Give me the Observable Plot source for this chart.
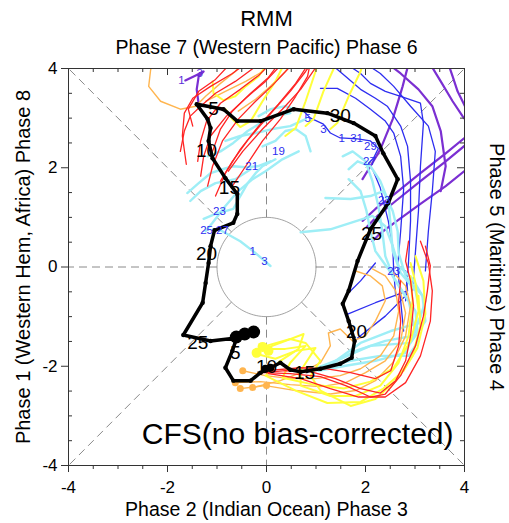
<!DOCTYPE html>
<html><head><meta charset="utf-8">
<script src="https://cdn.jsdelivr.net/npm/d3@7"></script>
<script src="https://cdn.jsdelivr.net/npm/@observablehq/plot@0.6"></script>
<style>body{margin:0;background:#fff}</style>
</head><body><div id="chart"></div>
<script>
// ---- text ----
const titleText = "RMM";
const topLabel = "Phase 7 (Western Pacific) Phase 6";
const bottomLabel = "Phase 2 (Indian Ocean) Phase 3";
const leftLabel = "Phase 1 (Western Hem, Africa) Phase 8";
const rightLabel = "Phase 5 (Maritime) Phase 4";
const modelLabel = "CFS(no bias-corrected)";

// ---- axes ----
const majorTicks = [-4, -2, 0, 2, 4];
const minorTicks = [-3.5, -3, -2.5, -1.5, -1, -0.5, 0.5, 1, 1.5, 2.5, 3, 3.5];
const phaseAngles = [0, 45, 90, 135, 180, 225, 270, 315];

// ---- observed RMM (black) ----
const observed = [[-0.61,-1.45],[-0.69,-1.69],[-0.83,-2.03],[-0.67,-2.29],[-0.32,-2.29],[-0.12,-2.13],[0.08,-2.03],[0.28,-1.93],[0.48,-2.07],[0.69,-2.11],[1.09,-2.05],[1.49,-1.95],[1.72,-1.83],[1.78,-1.49],[1.66,-1.09],[1.54,-0.74],[1.66,-0.48],[1.84,0.12],[2.10,0.76],[2.46,1.29],[2.65,1.77],[2.36,2.29],[2.20,2.64],[1.76,2.90],[1.23,3.10],[0.55,3.18],[-0.12,2.94],[-0.59,2.94],[-0.87,3.18],[-1.41,3.28],[-1.19,2.98],[-1.13,2.80],[-1.17,2.54],[-1.09,2.19],[-0.83,1.79],[-0.59,1.47],[-0.59,1.07],[-0.67,0.89],[-1.05,0.74],[-1.13,0.42],[-1.17,0.08],[-1.23,-0.32],[-1.29,-0.72],[-1.68,-1.37],[-1.13,-1.49],[-0.61,-1.43]];
const observedBigDots = [[-0.61,-1.41],[-0.44,-1.35],[-0.26,-1.31]];
const observedMidDots = [[0.08,-2.03],[-0.02,-2.05]];
const dayLabels = ["5","10","15","20","25","30","5","10","15","20","25"];
const dayLabelPos = [[-0.63,-1.73],[0,-2.01],[0.77,-2.13],[1.82,-1.31],[2.12,0.66],[1.49,3.04],[-1.07,3.18],[-1.21,2.33],[-0.75,1.59],[-1.21,0.26],[-1.39,-1.53]];

// ---- ensemble members by colour ----
const redMembers = [
 [[-1.62,2.07],[-1.70,2.64],[-1.66,3.10],[-1.49,3.40],[-1.13,3.64],[-0.69,3.90],[-0.36,4.14]],
 [[-1.39,2.13],[-1.33,2.54],[-1.21,2.94],[-0.93,3.30],[-0.53,3.58],[-0.16,3.86],[0.12,4.14]],
 [[-1.19,1.63],[-1.09,2.03],[-0.89,2.54],[-0.57,2.98],[-0.22,3.34],[0.12,3.66],[0.48,4.04]],
 [[-1.03,1.43],[-0.83,1.89],[-0.53,2.37],[-0.16,2.84],[0.24,3.28],[0.59,3.70],[0.85,4.10]],
 [[-0.77,1.93],[-0.48,2.33],[-0.08,2.78],[0.32,3.18],[0.69,3.58],[1.05,4.10]],
 [[-1.09,2.33],[-0.93,2.78],[-0.69,3.14],[-0.32,3.50],[0.04,3.82],[0.28,4.14]],
 [[-1.49,2.84],[-1.58,3.18],[-1.37,3.54],[-1.03,3.78],[-0.73,4.10]],
 [[-0.93,1.73],[-0.69,2.13],[-0.36,2.58],[0.04,3.04],[0.48,3.54],[0.79,3.94],[0.93,4.14]],
 [[-1.74,2.33],[-1.66,2.74],[-1.54,3.04],[-1.33,3.24],[-1.03,3.50],[-0.63,3.74],[-0.22,4.04]],
 [[-1.33,1.83],[-1.27,2.23],[-1.13,2.64],[-0.81,3.04],[-0.42,3.40],[-0.02,3.74],[0.32,4.10]],
 [[-0.69,1.63],[-0.42,2.03],[-0.08,2.54],[0.28,2.98],[0.59,3.44],[0.83,3.84],[0.89,4.14]],
 [[-0.08,-2.13],[0.38,-2.09],[0.89,-2.11],[1.39,-2.25],[1.90,-2.45],[2.30,-2.54],[2.61,-2.29],[2.81,-1.89],[2.91,-1.39],[2.97,-0.78],[2.91,-0.28],[2.81,0.12],[2.87,0.52]],
 [[-0.04,-2.13],[0.48,-2.15],[1.09,-2.21],[1.60,-2.39],[2.10,-2.62],[2.40,-2.56],[2.71,-2.19],[3.01,-1.59],[3.17,-0.99],[3.25,-0.48],[3.31,0.02],[3.21,0.42]],
 [[0,-2.09],[0.69,-2.03],[1.19,-2.05],[1.70,-2.13],[2.20,-2.25],[2.51,-2.09],[2.67,-1.59],[2.71,-1.09],[2.67,-0.68],[2.71,-0.28]],
 [[0.04,-2.15],[0.69,-2.25],[1.29,-2.45],[1.86,-2.62],[2.40,-2.62],[2.81,-2.33],[3.11,-1.79],[3.31,-1.09],[3.35,-0.48],[3.27,0.08],[3.11,0.52]]
];
const yellowMembers = [
 [[-0.16,-1.69],[0.28,-1.53],[0.75,-1.35],[0.65,-1.65],[0.28,-1.89],[-0.02,-2.19],[0.59,-2.49],[1.23,-2.74],[1.90,-2.72],[2.36,-2.45],[2.77,-2.09],[3.05,-1.63],[3.21,-0.95],[3.17,-0.28],[3.01,0.22]],
 [[-0.12,-1.65],[0.38,-1.65],[0.79,-1.59],[0.48,-1.93],[0.32,-2.23],[0.95,-2.37],[1.56,-2.45],[2.10,-2.31],[2.57,-2.03],[2.91,-1.49],[3.07,-0.89],[3.01,-0.32],[2.91,0.08]],
 [[-0.22,-1.75],[0.18,-1.85],[0.59,-1.69],[0.99,-1.63],[0.69,-2.09],[0.69,-2.39],[1.29,-2.60],[1.80,-2.60],[2.30,-2.39],[2.67,-1.93],[2.87,-1.39],[2.95,-0.68],[2.91,-0.18]],
 [[-0.08,-1.61],[0.48,-1.45],[0.79,-1.53],[1.09,-1.89],[0.89,-2.19],[1.09,-2.49],[1.70,-2.80],[2.20,-2.66],[2.61,-2.29],[2.95,-1.79],[3.11,-1.19],[3.07,-0.58]],
 [[0.38,2.64],[0.59,2.80],[0.79,3.34],[0.99,3.94],[1.05,4.14]],
 [[0.79,2.84],[0.95,2.98],[1.15,3.54],[1.35,3.98],[1.41,4.14]],
 [[1.29,2.78],[1.43,2.90],[1.66,3.44],[1.90,3.94],[1.96,4.14]],
 [[-1.09,3.74],[-1.07,3.50],[-0.87,3.36],[-0.63,3.44],[-0.42,3.64],[-0.16,3.84],[0.04,4.14]],
 [[-0.83,3.18],[-0.69,2.98],[-0.53,2.82],[-0.32,2.94],[-0.08,3.34],[0.18,3.74],[0.38,4.14]]
];
const yellowStartDots = [[-0.20,-1.73],[-0.08,-1.61],[0.04,-1.69]];
const orangeMembers = [
 [[-2.24,4.14],[-2.34,3.98],[-2.38,3.64],[-2.14,3.34],[-1.74,3.18],[-1.43,3.24],[-1.23,3.44],[-0.93,3.70],[-0.63,3.94],[-0.48,4.14]],
 [[-1.23,3.34],[-0.83,3.54],[-0.42,3.74],[-0.08,3.94],[0.08,4.14]],
 [[-0.57,3.14],[-0.22,3.38],[0.08,3.64],[0.38,3.94],[0.53,4.14]],
 [[-0.48,-2.09],[-0.02,-2.19],[0.48,-2.25],[0.99,-2.25],[1.49,-2.19],[1.90,-2.05],[2.30,-1.79],[2.57,-1.39],[2.67,-0.89],[2.61,-0.48],[2.40,-0.18],[2.14,-0.04]],
 [[-0.63,-2.33],[-0.12,-2.31],[0.48,-2.37],[1.09,-2.41],[1.60,-2.33],[2.00,-2.13],[2.40,-1.89],[2.71,-1.49],[2.81,-0.93],[2.71,-0.52]],
 [[-0.53,-2.45],[-0.02,-2.39],[0.59,-2.49],[1.29,-2.56],[1.80,-2.49],[2.20,-2.29],[2.55,-1.93],[2.81,-1.39],[2.91,-0.78],[2.81,-0.38],[2.57,-0.12]],
 [[-0.28,-2.43],[0.28,-2.29],[0.69,-2.13],[1.09,-1.93],[1.29,-1.59],[1.25,-1.33],[1.49,-1.25],[1.74,-1.49],[2.00,-1.39],[2.20,-1.09],[2.40,-0.68],[2.34,-0.38],[2.10,-0.18],[1.80,-0.08]]
];
const orangeStartDots = [[-0.48,-2.09],[-0.63,-2.33],[-0.53,-2.45],[-0.28,-2.43],[0,-2.39]];
const cyanMembers = [
 [[1.05,-2.09],[1.60,-1.99],[2.20,-1.89],[2.81,-1.73],[3.01,-1.29],[2.87,-0.68],[2.57,-0.22],[2.40,0.22],[2.34,0.72],[2.26,1.23],[2.14,1.73],[2.00,2.13],[1.74,2.33],[1.54,2.23]],
 [[1.13,-2.05],[1.80,-1.69],[2.40,-1.49],[2.95,-1.39],[3.11,-0.99],[3.01,-0.48],[2.71,-0.12],[2.55,0.32],[2.51,0.82],[2.46,1.33],[2.30,1.73],[2.10,2.03],[1.84,2.13],[1.66,1.97]],
 [[0.93,-2.07],[1.49,-1.85],[2.10,-1.59],[2.91,-1.53],[3.21,-1.09],[3.15,-0.58],[2.81,-0.18],[2.67,0.28],[2.65,0.72],[2.55,1.13],[2.36,1.53],[2.10,1.43],[1.70,1.37],[1.19,1.39]],
 [[1.23,-2.01],[1.90,-1.53],[2.51,-1.29],[3.07,-1.13],[3.21,-0.68],[2.95,-0.24],[2.67,0.02],[2.55,0.42],[2.40,0.82],[2.14,1.03],[1.70,0.89],[1.29,0.76],[0.69,0.70]],
 [[0.99,-2.05],[1.70,-1.89],[2.30,-1.79],[2.87,-1.79],[3.07,-1.49],[3.01,-0.89],[2.71,-0.44],[2.46,-0.04],[2.20,0.32],[2.10,0.72],[2.02,1.13],[1.90,1.53],[1.66,1.77]],
 [[-1.19,2.23],[-0.93,2.33],[-0.67,2.50],[-0.38,2.74],[-0.12,2.90],[0.18,3.04],[0.48,3.10]],
 [[-1.60,1.49],[-1.37,1.69],[-1.13,1.89],[-0.89,1.97],[-0.67,2.03],[-0.42,2.01],[-0.18,2.03],[0.08,2.13]],
 [[-1.27,0.97],[-1.03,1.07],[-0.67,1.17],[-0.53,1.43],[-0.38,1.69],[-0.22,1.89],[-0.08,2.03],[0.18,2.17]],
 [[-1.07,0.76],[-0.93,0.74],[-0.53,0.52],[-0.22,0.28],[0.08,0.02]],
 [[-1.23,0.72],[-1.09,0.89],[-0.83,1.23],[-0.57,1.53],[-0.28,1.77],[-0.02,1.93],[0.32,2.17],[0.65,2.33]],
 [[-0.83,2.54],[-0.53,2.64],[-0.22,2.70],[0.12,2.78],[0.48,2.84],[0.79,2.98]],
 [[-1.54,1.33],[-1.33,1.53],[-1.03,1.69],[-0.63,1.77],[-0.32,1.97]],
 [[-0.08,2.43],[0.18,2.54],[0.38,2.74],[0.59,2.78],[0.79,2.64],[0.89,2.33]],
 [[-0.16,3.04],[0.08,3.18],[0.38,3.24],[0.69,3.14]]
];
const blueMembers = [
 [[0.75,3.14],[0.89,3.00],[1.15,2.88],[1.29,2.70],[1.49,2.60],[1.84,2.58],[2.10,2.54],[2.26,2.39],[2.16,2.19],[2.06,2.09],[2.16,1.93],[2.30,1.59],[2.36,1.33],[2.46,0.93],[2.55,0.42],[2.57,-0.08],[2.61,-0.58]],
 [[1.09,3.60],[1.43,3.60],[1.80,3.40],[2.10,3.18],[2.40,2.94],[2.57,2.70],[2.71,2.23],[2.77,1.57],[2.71,0.72],[2.65,0.02],[2.71,-0.68],[2.77,-1.29]],
 [[1.29,4.10],[1.60,3.84],[1.90,3.58],[2.20,3.40],[2.44,3.24],[2.71,2.84],[2.85,2.43],[2.91,1.73],[2.91,0.93],[2.87,0.12],[2.81,-0.68]],
 [[1.60,4.10],[1.90,3.90],[2.10,3.70],[2.40,3.54],[2.71,3.44],[3.11,3.30],[3.17,2.90],[3.11,2.03],[3.07,1.13],[3.01,0.32],[2.95,-0.48]],
 [[2.00,4.10],[2.30,3.90],[2.57,3.64],[2.91,3.24],[3.27,2.84],[3.41,2.33],[3.35,1.53],[3.27,0.72],[3.21,-0.08]],
 [[1.64,-0.54],[1.90,-0.28],[2.20,0.08]],
 [[1.64,-0.95],[2.20,-0.72],[2.85,-0.48],[2.81,-0.08]],
 [[1.84,-1.43],[2.40,-0.99],[2.85,-0.54]]
];
const purpleMembers = [
 [[2.91,4.25],[2.75,3.64],[2.55,2.98],[2.30,2.37],[2.10,2.03],[1.94,1.77]],
 [[2.40,4.14],[2.71,3.90],[3.07,3.58],[3.35,3.24],[3.52,2.74],[3.62,2.03],[3.52,1.53]],
 [[3.21,4.25],[3.52,3.74],[3.76,3.34],[3.96,3.04],[4.12,2.84]],
 [[3.62,4.25],[3.76,3.84],[3.86,3.54],[4.04,3.18],[4.22,2.98]],
 [[4.12,2.70],[3.62,2.29],[3.11,1.89],[2.61,1.49],[2.20,1.17],[1.94,0.93]],
 [[4.12,2.54],[3.62,2.13],[3.11,1.73],[2.61,1.33],[2.24,1.03],[2.02,0.80]],
 [[4.12,2.03],[3.62,1.63],[3.11,1.27],[2.61,0.91],[2.30,0.68],[2.14,0.52]],
 [[-1.07,3.22],[-1.37,3.28],[-1.41,3.58],[-1.37,3.84],[-1.27,3.94],[-1.43,3.86],[-1.64,3.76]]
];
const meanLabels = ["19","21","23","25","27","1","3","5","3","1","31","29","27","23","23","1","3"];
const meanLabelPos = [[0.24,2.33],[-0.30,2.03],[-0.95,1.13],[-1.21,0.74],[-0.89,0.74],[-0.28,0.32],[-0.04,0.12],[0.83,3.00],[1.15,2.78],[1.52,2.60],[1.82,2.60],[2.10,2.43],[2.08,2.13],[2.38,1.35],[2.57,-0.08],[-1.72,3.76],[-1.35,3.90]];

// ---- helpers ----
const toRows = (members, g) => members.flatMap((pts, i) => pts.map(([x, y]) => ({x, y, member: g + i})));
const toPts = (pts) => pts.map(([x, y]) => ({x, y}));
const font = "Liberation Sans, Arial, Helvetica, sans-serif";
const rad = (a) => a * Math.PI / 180;
const edge = (a) => 4 / Math.max(Math.abs(Math.cos(rad(a))), Math.abs(Math.sin(rad(a))));
const circle = d3.range(0, 361, 3);
const tk = 8 / 396; // data units per pixel

const member = (members, g, color, w) => Plot.line(toRows(members, g), {x: "x", y: "y", z: "member", stroke: color, strokeWidth: w, strokeLinejoin: "round", clip: true});

const chart = Plot.plot({
  width: 509, height: 523,
  marginLeft: 68, marginRight: 45, marginTop: 68, marginBottom: 58,
  x: {domain: [-4, 4], axis: null},
  y: {domain: [-4, 4], axis: null},
  style: {fontFamily: font, background: "white", color: "black"},
  marks: [
    Plot.line(circle, {x: a => Math.cos(rad(a)), y: a => Math.sin(rad(a)), stroke: "#8a8a8a", strokeWidth: 0.8}),
    Plot.link(phaseAngles, {x1: a => Math.cos(rad(a)), y1: a => Math.sin(rad(a)), x2: a => Math.cos(rad(a)) * edge(a), y2: a => Math.sin(rad(a)) * edge(a), stroke: "#8a8a8a", strokeWidth: 1, strokeDasharray: "8,5"}),
    member(purpleMembers, "p", "#7b2fd2", 2.2),
    member(blueMembers, "b", "#2d2df0", 1.3),
    member(cyanMembers, "c", "#9eeef6", 2.4),
    member(orangeMembers, "o", "#ffb54f", 1.4),
    member(yellowMembers, "y", "#ffff3a", 2),
    member(redMembers, "r", "#ff2424", 1.3),
    Plot.dot(toPts(orangeStartDots), {x: "x", y: "y", r: 3.5, fill: "#ffb54f"}),
    Plot.dot(toPts(yellowStartDots), {x: "x", y: "y", r: 5, fill: "#ffff3a"}),
    Plot.line(toPts(observed), {x: "x", y: "y", stroke: "black", strokeWidth: 3.5, strokeLinejoin: "round"}),
    Plot.dot(toPts(observed), {x: "x", y: "y", r: 2.2, fill: "black"}),
    Plot.dot(toPts(observedBigDots), {x: "x", y: "y", r: 6.5, fill: "black"}),
    Plot.dot(toPts(observedMidDots), {x: "x", y: "y", r: 4, fill: "black"}),
    Plot.text(dayLabels, {x: (d, i) => dayLabelPos[i][0], y: (d, i) => dayLabelPos[i][1], text: d => d, fontSize: 19, fill: "black"}),
    Plot.text(meanLabels, {x: (d, i) => meanLabelPos[i][0], y: (d, i) => meanLabelPos[i][1], text: d => d, fontSize: 11.5, fill: (d, i) => i >= 15 ? "#5a2fd8" : "#2d2df0"}),
    Plot.frame({stroke: "#333", strokeWidth: 1}),
    // ticks
    Plot.ruleX(majorTicks, {x: d => d, y1: -4, y2: -4 - 7 * tk, stroke: "#333"}),
    Plot.ruleX(minorTicks, {x: d => d, y1: -4, y2: -4 - 4 * tk, stroke: "#333"}),
    Plot.ruleX(majorTicks, {x: d => d, y1: 4, y2: 4 - 7 * tk, stroke: "#333"}),
    Plot.ruleX(minorTicks, {x: d => d, y1: 4, y2: 4 - 4 * tk, stroke: "#333"}),
    Plot.ruleY(majorTicks, {y: d => d, x1: -4, x2: -4 - 7 * tk, stroke: "#333"}),
    Plot.ruleY(minorTicks, {y: d => d, x1: -4, x2: -4 + 4 * tk, stroke: "#333"}),
    Plot.ruleY(majorTicks, {y: d => d, x1: 4, x2: 4 - 7 * tk, stroke: "#333"}),
    Plot.ruleY(minorTicks, {y: d => d, x1: 4, x2: 4 - 4 * tk, stroke: "#333"}),
    Plot.text(majorTicks, {x: d => d, y: -4, dy: 22, text: d => String(d), fontSize: 17, lineAnchor: "middle", textAnchor: "middle"}),
    Plot.text(majorTicks, {y: d => d, x: -4, dx: -11, text: d => String(d), fontSize: 17, lineAnchor: "middle", textAnchor: "end"}),
    // titles
    Plot.text([titleText], {frameAnchor: "top", dy: -50, text: d => d, fontSize: 22, lineAnchor: "middle", textAnchor: "middle"}),
    Plot.text([topLabel], {frameAnchor: "top", dy: -21, text: d => d, fontSize: 19.5, lineAnchor: "middle", textAnchor: "middle"}),
    Plot.text([bottomLabel], {frameAnchor: "bottom", dy: 44, text: d => d, fontSize: 19.5, lineAnchor: "middle", textAnchor: "middle"}),
    Plot.text([leftLabel], {frameAnchor: "left", dx: -45, rotate: -90, text: d => d, fontSize: 20, lineAnchor: "middle", textAnchor: "middle"}),
    Plot.text([rightLabel], {frameAnchor: "right", dx: 32, rotate: 90, text: d => d, fontSize: 20, lineAnchor: "middle", textAnchor: "middle"}),
    Plot.text([modelLabel], {frameAnchor: "bottom-right", dx: -11, dy: -31, text: d => d, fontSize: 30, lineAnchor: "middle", textAnchor: "end"})
  ]
});
document.getElementById("chart").appendChild(chart);
</script>
</body></html>
